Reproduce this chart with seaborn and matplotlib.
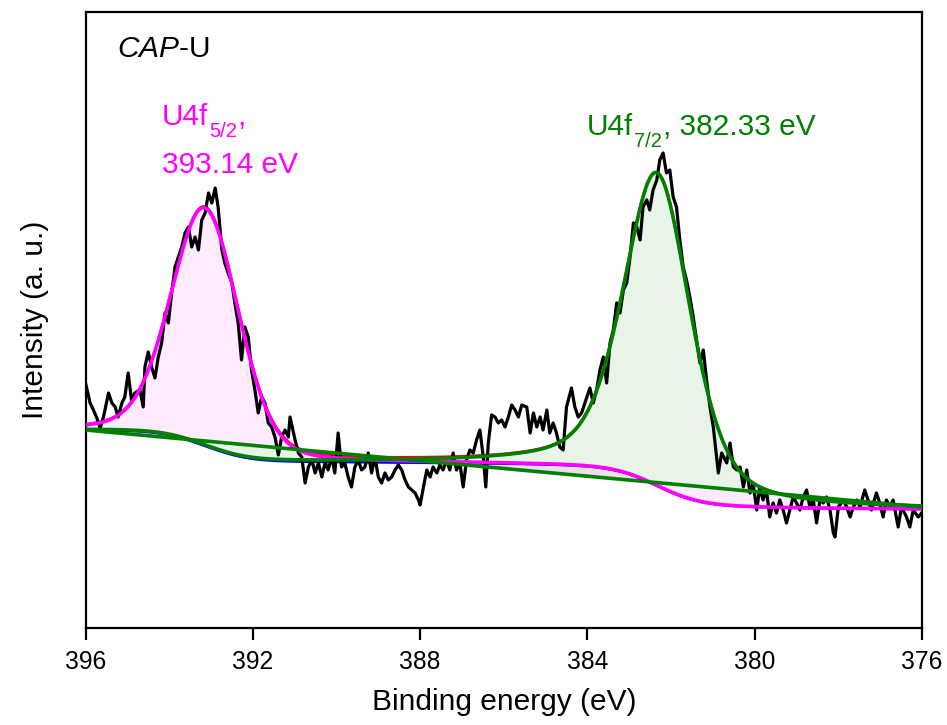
import numpy as np
import matplotlib
matplotlib.use("Agg")
import matplotlib.pyplot as plt
import seaborn as sns

# ---- measured U4f spectrum ----
binding_energy = [
    396.00, 395.89, 395.81, 395.73, 395.65, 395.57, 395.45, 395.37, 395.29, 395.22,
    395.13, 395.06, 394.98, 394.90, 394.82, 394.70, 394.62, 394.58, 394.50, 394.42,
    394.34, 394.26, 394.18, 394.10, 394.02, 393.94, 393.86, 393.78, 393.70, 393.62,
    393.54, 393.46, 393.38, 393.30, 393.22, 393.14, 393.06, 392.98, 392.90, 392.83,
    392.74, 392.67, 392.59, 392.50, 392.43, 392.35, 392.27, 392.19, 392.11, 392.03,
    391.95, 391.87, 391.79, 391.71, 391.63, 391.55, 391.47, 391.39, 391.31, 391.23,
    391.15, 391.11, 390.99, 390.91, 390.83, 390.75, 390.67, 390.59, 390.51, 390.43,
    390.35, 390.27, 390.20, 390.11, 390.04, 389.96, 389.88, 389.80, 389.72, 389.64,
    389.56, 389.48, 389.40, 389.32, 389.24, 389.16, 389.08, 389.00, 388.92, 388.84,
    388.76, 388.68, 388.60, 388.52, 388.44, 388.36, 388.28, 388.20, 388.12, 388.04,
    388.00, 387.92, 387.84, 387.76, 387.69, 387.60, 387.53, 387.45, 387.37, 387.29,
    387.21, 387.13, 387.05, 386.97, 386.89, 386.81, 386.73, 386.65, 386.57, 386.49,
    386.43, 386.37, 386.29, 386.21, 386.13, 386.05, 385.97, 385.89, 385.81, 385.73,
    385.65, 385.57, 385.45, 385.37, 385.29, 385.21, 385.13, 385.06, 384.97, 384.90,
    384.82, 384.74, 384.66, 384.58, 384.50, 384.38, 384.30, 384.22, 384.14, 384.06,
    383.94, 383.86, 383.78, 383.70, 383.62, 383.54, 383.46, 383.38, 383.30, 383.22,
    383.14, 383.06, 382.98, 382.90, 382.82, 382.74, 382.67, 382.58, 382.51, 382.43,
    382.34, 382.27, 382.19, 382.11, 382.03, 381.95, 381.87, 381.79, 381.71, 381.63,
    381.55, 381.47, 381.39, 381.31, 381.23, 381.15, 381.07, 380.99, 380.87, 380.79,
    380.67, 380.59, 380.51, 380.43, 380.35, 380.27, 380.19, 380.11, 380.04, 379.95,
    379.88, 379.80, 379.72, 379.64, 379.56, 379.48, 379.40, 379.32, 379.24, 379.16,
    379.08, 379.00, 378.92, 378.84, 378.76, 378.68, 378.60, 378.52, 378.44, 378.36,
    378.28, 378.20, 378.12, 378.08, 378.00, 377.88, 377.80, 377.72, 377.64, 377.56,
    377.48, 377.37, 377.29, 377.21, 377.09, 377.01, 376.93, 376.85, 376.77, 376.69,
    376.57, 376.49, 376.37, 376.29, 376.21, 376.09, 376.01,
]
intensity = [
    245, 225, 218, 210, 200, 211, 235, 225, 221, 211,
    225, 231, 255, 228, 235, 238, 221, 261, 276, 261,
    250, 271, 285, 315, 305, 335, 361, 371, 381, 395,
    401, 381, 391, 378, 408, 415, 435, 425, 440, 421,
    378, 365, 355, 345, 325, 305, 268, 301, 291, 258,
    238, 215, 231, 225, 205, 201, 191, 173, 191, 198,
    191, 211, 188, 175, 171, 145, 161, 168, 155, 165,
    151, 166, 158, 171, 155, 195, 161, 165, 151, 141,
    161, 168, 158, 161, 175, 155, 171, 151, 145, 155,
    148, 151, 158, 163, 158, 148, 141, 138, 135, 128,
    123, 141, 158, 151, 161, 155, 163, 158, 168, 158,
    175, 158, 165, 141, 168, 178, 175, 188, 198, 171,
    141, 185, 213, 211, 205, 208, 201, 211, 223, 218,
    211, 223, 221, 195, 215, 201, 211, 198, 218, 195,
    205, 195, 181, 178, 221, 240, 221, 211, 215, 225,
    240, 225, 238, 258, 271, 245, 285, 298, 325, 315,
    338, 345, 371, 405, 401, 388, 421, 428, 418, 438,
    448, 468, 475, 455, 458, 431, 421, 388, 361, 348,
    331, 311, 288, 265, 278, 248, 221, 201, 155, 175,
    165, 185, 161, 158, 161, 141, 158, 135, 145, 118,
    141, 128, 138, 111, 125, 115, 128, 118, 105, 118,
    131, 125, 118, 131, 138, 121, 128, 105, 128, 125,
    131, 118, 95, 91, 121, 128, 121, 111, 121, 128,
    121, 138, 128, 118, 135, 125, 111, 128, 121, 128,
    101, 121, 111, 101, 118, 111, 115,
]

# ---- fit parameters (Gaussian-Lorentzian components, Shirley background) ----
peak_names = ["U4f", "U4f"]
peak_subscripts = ["5/2", "7/2"]
peak_centers = [393.14, 382.33]      # eV
peak_heights = [238.0, 313.0]        # a.u.
peak_fwhm = [1.9, 1.9]               # eV
peak_lorentz = [0.2, 0.45]           # Lorentzian fraction
shirley_ends = [198.0, 119.0]        # background at 396 eV and at 376 eV
linear_bg_ends = [198.0, 121.0]      # straight reference line at 396 eV and 376 eV
energy_window = [376.0, 396.0]


def gl_peak(e, center, height, fwhm, eta):
    x = (e - center) / (fwhm / 2.0)
    return height * ((1 - eta) * np.exp(-np.log(2) * x ** 2) + eta / (1 + x ** 2))


e_fit = np.linspace(energy_window[0], energy_window[1], 1201)
comp1 = gl_peak(e_fit, peak_centers[0], peak_heights[0], peak_fwhm[0], peak_lorentz[0])
comp2 = gl_peak(e_fit, peak_centers[1], peak_heights[1], peak_fwhm[1], peak_lorentz[1])

# Shirley background: proportional to the peak area on the low binding-energy side
total = comp1 + comp2
cum = np.concatenate([[0.0], np.cumsum((total[1:] + total[:-1]) / 2.0)])
shirley = shirley_ends[1] + (shirley_ends[0] - shirley_ends[1]) * cum / cum[-1]

env_52 = shirley + comp1
env_72 = shirley + comp2
envelope = shirley + comp1 + comp2
linear_bg = np.interp(e_fit, energy_window, linear_bg_ends[::-1])

# ---- style ----
sns.set_theme(style="white")
plt.rcParams["font.family"] = ["Liberation Sans", "DejaVu Sans"]
plt.rcParams["mathtext.fontset"] = "custom"
plt.rcParams["mathtext.rm"] = "Liberation Sans"
plt.rcParams["mathtext.it"] = "Liberation Sans:italic"
plt.rcParams["mathtext.bf"] = "Liberation Sans:bold"

MAGENTA = "#FF00FF"
GREEN = "#008000"
BLUE = "#0000FF"
RED = "#FF0000"
LABEL_SIZE = 21.5
SUB_SIZE = 14.5

fig = plt.figure(figsize=(9.47, 7.25), dpi=100)
ax = fig.add_axes([0.0903, 0.1338, 0.8833, 0.8497])

ax.fill_between(e_fit, env_52, linear_bg, color=MAGENTA, alpha=0.08, lw=0, zorder=1)
ax.fill_between(e_fit, env_72, linear_bg, color=GREEN, alpha=0.085, lw=0, zorder=1)

sns.lineplot(x=e_fit, y=shirley, color=BLUE, lw=2.0, ax=ax, zorder=2)
sns.lineplot(x=e_fit, y=envelope, color=RED, lw=2.0, ax=ax, zorder=3)
sns.lineplot(x=binding_energy, y=intensity, sort=False, estimator=None,
             color="black", lw=2.3, ax=ax, zorder=4)
sns.lineplot(x=e_fit, y=env_52, color=MAGENTA, lw=2.6, ax=ax, zorder=5)
sns.lineplot(x=energy_window, y=linear_bg_ends[::-1], color=GREEN, lw=2.6, ax=ax, zorder=6)
sns.lineplot(x=e_fit, y=env_72, color=GREEN, lw=2.6, ax=ax, zorder=6)

ax.set_xlim(396, 376)
ax.set_ylim(0, 616)
ax.set_xticks(np.arange(396, 375, -4))
ax.set_yticks([])

for spine in ax.spines.values():
    spine.set_visible(True)
    spine.set_color("black")
    spine.set_linewidth(1.6)

ax.tick_params(axis="x", direction="out", length=8.6, width=1.6, labelsize=17.7,
               pad=7, bottom=True, top=False, colors="black")
ax.tick_params(axis="y", left=False, right=False)
ax.grid(False)

ax.set_xlabel("Binding energy (eV)", fontsize=LABEL_SIZE, labelpad=10, color="black")
ax.set_ylabel("Intensity (a. u.)", fontsize=LABEL_SIZE, labelpad=26, color="black")

ax.text(395.25, 571, r"$\mathit{CAP}$-U", fontsize=LABEL_SIZE, va="baseline",
        ha="left", color="black")


def peak_label(x, y, name, sub, tail, color):
    """Write name, a lowered subscript and the trailing text on one baseline."""
    head = ax.text(x, y, name, fontsize=LABEL_SIZE, va="bottom", ha="left", color=color)
    low = ax.annotate(sub, xy=(1, 0), xycoords=head, xytext=(0.5, -7.5),
                      textcoords="offset points", fontsize=SUB_SIZE,
                      va="bottom", ha="left", color=color)
    ax.annotate(tail, xy=(1, 0), xycoords=(low, head), xytext=(0.5, 0),
                textcoords="offset points", fontsize=LABEL_SIZE,
                va="bottom", ha="left", color=color)


# label baselines sit one descent above the bbox bottoms used here
peak_label(394.17, 497, peak_names[0], peak_subscripts[0], ",", MAGENTA)
ax.text(394.17, 455, f"{peak_centers[0]:.2f} eV", fontsize=LABEL_SIZE, va="baseline",
        ha="left", color=MAGENTA)
peak_label(384.01, 487, peak_names[1], peak_subscripts[1],
           f", {peak_centers[1]:.2f} eV", GREEN)

fig.savefig("out.png", dpi=100)
